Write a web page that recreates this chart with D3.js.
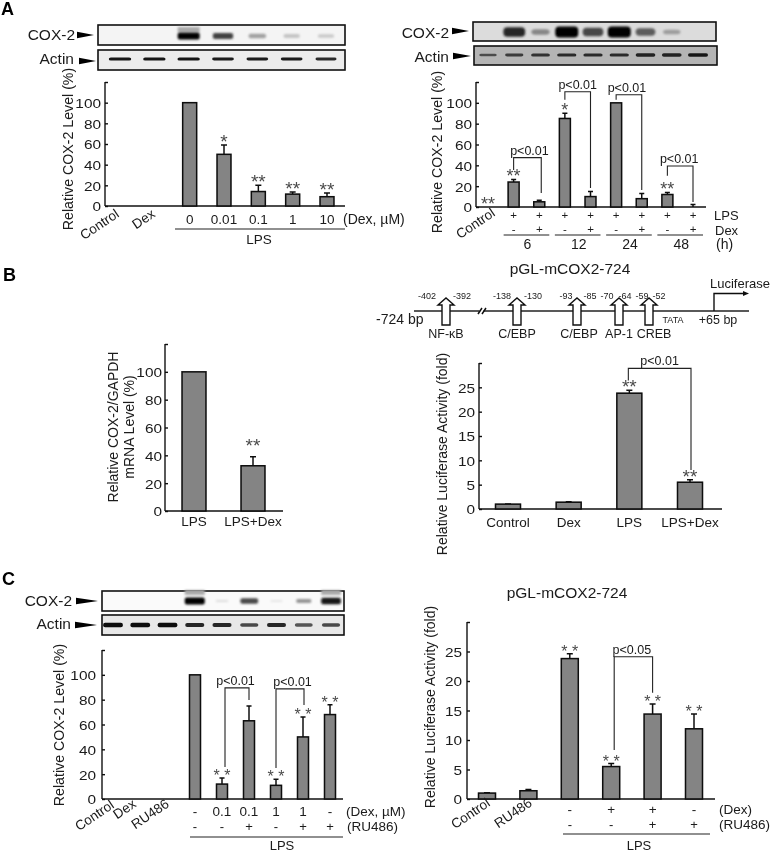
<!DOCTYPE html>
<html><head><meta charset="utf-8">
<script src="https://cdn.jsdelivr.net/npm/d3@7"></script>
<style>html,body{margin:0;padding:0;background:#fff}svg{display:block}text{font-family:"Liberation Sans",Arial,sans-serif;fill:#1a1a1a}</style>
</head><body><div id="c"></div>
<script>
// ---------- data ----------
const a1Cats=["Control","Dex","0","0.01","0.1","1","10"];
const a1Vals=[0,0,100,50,14,11.5,9];
const a1Errs=[0,0,100,59,20,13.5,12.5];
const a1Stars=["","","","*","**","**","**"];
const a1Cox=[0,0,1,.75,.35,.2,.18];
const a1Actin=[.95,.95,.95,.9,.9,.9,.85];

const a2Cats=["Control","6-","6+","12-","12+","24-","24+","48-","48+"];
const a2Vals=[0,24,5,85,10,100,8,12,0];
const a2Errs=[0,26.5,6.5,90,15,100,13,14,2.5];
const a2Stars=["**","**","","*","","","","**",""];
const a2Row1=["","+","+","+","+","+","+","+","+"];
const a2Row2=["","-","+","-","+","-","+","-","+"];
const a2Groups=["6","12","24","48"];
const a2Cox=[0,.85,.4,1,.7,1,.6,.3,0];
const a2Actin=[.6,.7,.75,.8,.8,.8,.85,.85,.9];

const b1Cats=["LPS","LPS+Dex"];
const b1Vals=[100,32.5];
const b1Errs=[100,39];
const b1Stars=["","**"];

const b2Cats=["Control","Dex","LPS","LPS+Dex"];
const b2Vals=[1,1.4,23.8,5.5];
const b2Errs=[1.05,1.5,24.4,6];
const b2Stars=["","","**","**"];
const siteNames=["NF-κB","C/EBP","C/EBP","AP-1","CREB"];
const sitePos=[-397,-134,-89,-67,-55];
const siteLabels=["-402","-392","-138","-130","-93","-85","-70","-64","-59","-52"];

const c1Cats=["Control","Dex","RU486","-|-","0.1|-","0.1|+","1|-","1|+","-|+"];
const c1Vals=[0,0,0,100,12,63,11,50,68];
const c1Errs=[0,0,0,100,17,75,16,66,76];
const c1Stars=["","","","","* *","","* *","* *","* *"];
const c1Row1=["","","","-","0.1","0.1","1","1","-"];
const c1Row2=["","","","-","-","+","-","+","+"];
const c1Cox=[0,0,0,1,.12,.72,.08,.42,.95];
const c1Actin=[.95,.95,.95,.85,.85,.7,.85,.65,.7];

const c2Cats=["Control","RU486","-|-","+|-","+|+","-|+"];
const c2Vals=[1,1.4,23.8,5.5,14.4,11.9];
const c2Errs=[1.05,1.6,24.6,6,16.1,14.4];
const c2Stars=["","","* *","* *","* *","* *"];
const c2Row1=["","","-","+","+","-"];
const c2Row2=["","","-","-","+","+"];

const yTicks100=[0,20,40,60,80,100,120];
const yTicks25=[0,5,10,15,20,25,30];

// ---------- helpers ----------
const svg=d3.select("#c").append("svg").attr("width",774).attr("height",853);
const defs=svg.append("defs");
defs.append("filter").attr("id","soft").attr("x","-5%").attr("y","-5%").attr("width","110%").attr("height","110%")
  .append("feGaussianBlur").attr("stdDeviation",0.35);
defs.append("filter").attr("id","band").attr("x","-30%").attr("y","-100%").attr("width","160%").attr("height","300%")
  .append("feGaussianBlur").attr("stdDeviation",1.3);
defs.append("filter").attr("id","fine").attr("x","-30%").attr("y","-150%").attr("width","160%").attr("height","400%")
  .append("feGaussianBlur").attr("stdDeviation",0.75);
const root=svg.append("g").attr("filter","url(#soft)");

function txt(x,y,s,o={}){
  return root.append("text").attr("x",x).attr("y",y).text(s)
    .attr("font-size",o.size||13.5).attr("text-anchor",o.anchor||"middle")
    .attr("font-weight",o.weight||null).style("fill",o.fill||null)
    .attr("transform",o.rot!=null?`rotate(${o.rot} ${x} ${y})`:null);
}
function hline(x1,x2,y,w=1.2){root.append("line").attr("x1",x1).attr("x2",x2).attr("y1",y).attr("y2",y).attr("stroke","#222").attr("stroke-width",w);}
function hlineG(g,x1,x2,y){g.append("line").attr("x1",x1).attr("x2",x2).attr("y1",y).attr("y2",y).attr("stroke","#111").attr("stroke-width",1.6);}

function chart(p){
  const x=d3.scalePoint().domain(p.cats).range(p.xr);
  const y=d3.scaleLinear().domain([0,p.ymax]).range([p.y0,p.yt]);
  const g=root.append("g");
  const ax=d3.axisLeft(y).tickValues(p.ticks).tickSize(-3).tickFormat(d=>d===p.ymax?"":d);
  const ag=g.append("g").attr("transform",`translate(${p.ax},0)`).call(ax);
  ag.selectAll("text").attr("font-size",13.5).attr("x",-(p.tgap||4)).attr("dy","0.36em")
    .each(function(){const n=this.getComputedTextLength(); if(n>0) d3.select(this).attr("textLength",n*1.14).attr("lengthAdjust","spacingAndGlyphs");});
  ag.selectAll("line,path").attr("stroke","#111").attr("stroke-width",1.4);
  ag.select(".domain").attr("d",`M0,${p.yt}V${p.y0}`);
  hlineG(g,p.ax,p.xe,p.y0);
  const idx=p.cats.map((c,i)=>i);
  g.selectAll(".e").data(idx.filter(i=>p.errs[i]>p.vals[i])).join("path")
    .attr("d",i=>{const c=x(p.cats[i]),t=y(p.errs[i]),cap=p.cap||3;return `M${c},${y(p.vals[i])}V${t}M${c-cap},${t}H${c+cap}`;})
    .attr("stroke","#111").attr("stroke-width",1.5).attr("fill","none");
  g.selectAll(".b").data(idx.filter(i=>p.vals[i]>0)).join("rect")
    .attr("x",i=>x(p.cats[i])-p.bw/2).attr("width",p.bw)
    .attr("y",i=>y(p.vals[i])).attr("height",i=>y(0)-y(p.vals[i]))
    .attr("fill","#848484").attr("stroke","#0a0a0a").attr("stroke-width",1.5);
  g.selectAll(".s").data(idx.filter(i=>p.stars[i])).join("text")
    .attr("x",i=>x(p.cats[i])+(p.sdx||0)).attr("y",i=>y(p.errs[i])+(p.sdy==null?3:p.sdy))
    .attr("text-anchor","middle").attr("font-size",p.ssize||19).text(i=>p.stars[i]).style("fill","#4a4a4a");
  (p.br||[]).forEach(b=>{
    g.append("path").attr("d",`M${x(p.cats[b[0]])+(b[6]||0)},${y(b[2])}V${y(b[3])}H${x(p.cats[b[1]])+(b[7]||0)}V${y(b[4])}`)
      .attr("fill","none").attr("stroke","#222").attr("stroke-width",1.1);
    g.append("text").attr("x",(x(p.cats[b[0]])+x(p.cats[b[1]]))/2+(b[8]||0)).attr("y",y(b[3])-3)
      .attr("text-anchor","middle").attr("font-size",12.5).text(b[5]);
  });
  return {x,y};
}

function blot(p){
  const g=root.append("g");
  const x=d3.scalePoint().domain(d3.range(p.vals.length)).range(p.xr);
  g.append("rect").attr("x",p.x0).attr("y",p.y0).attr("width",p.x1-p.x0).attr("height",p.y1-p.y0)
    .attr("fill",p.bg).attr("stroke","#111").attr("stroke-width",1.6);
  const wS=d3.scaleLinear().domain([0,1]).range(p.w), hS=d3.scaleLinear().domain([0,1]).range(p.h);
  const col=d3.scaleLinear().domain([0,1]).range([p.bg,"#060606"]);
  const ids=d3.range(p.vals.length).filter(i=>p.vals[i]>0);
  if(p.halo) g.selectAll(".h").data(ids.filter(i=>p.vals[i]>.9)).join("rect")
     .attr("x",i=>x(i)-wS(p.vals[i])/2).attr("width",i=>wS(p.vals[i]))
     .attr("y",p.by-p.halo).attr("height",5).attr("fill","#aaa").attr("filter","url(#band)");
  g.selectAll(".n").data(ids).join("rect")
     .attr("x",i=>x(i)-wS(p.vals[i])/2).attr("width",i=>wS(p.vals[i]))
     .attr("y",i=>p.by-hS(p.vals[i])/2).attr("height",i=>hS(p.vals[i]))
     .attr("rx",p.rx||2).attr("fill",i=>col(p.vals[i])).attr("filter",`url(#${p.blur||"band"})`);
  txt(p.lx,p.ly,p.label,{anchor:"end",size:15.5});
  const [a,b,c]=p.arrow;
  g.append("path").attr("d",`M${a},${c-3.2}L${b},${c}L${a},${c+3.2}Z`).attr("fill","#000");
}

// ---------- panel letters ----------
txt(1,15,"A",{anchor:"start",size:18,weight:"bold",fill:"#000"});
txt(3,281,"B",{anchor:"start",size:18,weight:"bold",fill:"#000"});
txt(2,585,"C",{anchor:"start",size:18,weight:"bold",fill:"#000"});

// ---------- A left ----------
blot({vals:a1Cox,xr:[120,326],x0:98,x1:345,y0:25,y1:45,by:36,bg:"#f4f4f4",w:[15,22],h:[3,7],halo:9,lx:75,ly:40,label:"COX-2",arrow:[77,94,35]});
blot({vals:a1Actin,xr:[120,326],x0:98,x1:345,y0:50,y1:70,by:59,bg:"#ececec",w:[10,23],h:[1,3.2],blur:"fine",lx:74,ly:64,label:"Actin",arrow:[79,96,61]});
const a1=chart({cats:a1Cats,vals:a1Vals,errs:a1Errs,stars:a1Stars,xr:[121,327],ymax:120,ticks:yTicks100,y0:206,yt:82,ax:105,xe:345,bw:14});
txt(73,149,"Relative COX-2 Level (%)",{rot:-90,size:14.2});
txt(120,216,"Control",{rot:-34,anchor:"end",size:13.5});
txt(156,216,"Dex",{rot:-34,anchor:"end",size:13.5});
a1Cats.slice(2).forEach(c=>txt(a1.x(c),224,c,{size:13.5}));
txt(343,224,"(Dex, µM)",{anchor:"start",size:14});
hline(175,345,229);
txt(259,244,"LPS",{size:13.5});

// ---------- A right ----------
blot({vals:a2Cox,xr:[488,698],x0:473,x1:716,y0:22,y1:41,by:32,bg:"#dcdcdc",w:[15,23],h:[2,11],rx:4,lx:449,ly:38,label:"COX-2",arrow:[452,469,31]});
blot({vals:a2Actin,xr:[488,698],x0:474,x1:717,y0:46,y1:65,by:55,bg:"#b4b4b4",w:[12,21],h:[1,3.8],blur:"fine",lx:449,ly:62,label:"Actin",arrow:[453,471,56]});
const a2=chart({cats:a2Cats,vals:a2Vals,errs:a2Errs,stars:a2Stars,xr:[488,693],ymax:120,ticks:yTicks100,y0:207,yt:82,ax:476,xe:706,bw:11,tgap:4,cap:2.5,ssize:18,
 br:[[1,2,35.6,47.4,13.5,"p<0.01",0,2,3],[3,4,103,110.6,18.3,"p<0.01",0,0,0],[5,6,103,107.7,16.3,"p<0.01",0,0,-2],[7,8,30,39.4,4.8,"p<0.01",0,0,-1]]});
txt(442,152,"Relative COX-2 Level (%)",{rot:-90,size:14.2});
txt(496,215,"Control",{rot:-34,anchor:"end",size:13.5});
a2Cats.forEach((c,i)=>{ if(a2Row1[i]){ txt(a2.x(c),219,a2Row1[i],{size:11.5}); txt(a2.x(c),232.5,a2Row2[i],{size:11.5}); }});
txt(714,219.5,"LPS",{anchor:"start",size:13});
txt(715,234.5,"Dex",{anchor:"start",size:13});
a2Groups.forEach((g,i)=>{
  const l=a2.x(a2Cats[1+2*i]),r=a2.x(a2Cats[2+2*i]);
  hline(l-10,r+10,235);
  txt((l+r)/2+1,249,g,{size:14});
});
txt(716,249,"(h)",{anchor:"start",size:14});

// ---------- B left ----------
const b1=chart({cats:b1Cats,vals:b1Vals,errs:b1Errs,stars:b1Stars,xr:[194,253],ymax:120,ticks:yTicks100,y0:511,yt:344,ax:165,xe:283,bw:24,sdy:-5,tgap:3});
txt(118,427,"Relative COX-2/GAPDH",{rot:-90,size:14});
txt(134,427,"mRNA Level (%)",{rot:-90,size:14});
b1Cats.forEach(c=>txt(b1.x(c),526,c,{size:13.5}));

// ---------- B right ----------
txt(570,274,"pGL-mCOX2-724",{size:15.5});
const px=d3.scaleLinear().domain(sitePos).range([446,517,577,619,649]);
hline(414,749,311,1.5);
root.append("rect").attr("x",479.5).attr("y",309).attr("width",4).attr("height",4).attr("fill","#fff");
root.append("path").attr("d","M478,314L482,308M482,314L486,308").attr("stroke","#111").attr("stroke-width",1.5);
root.selectAll(".site").data(sitePos).join("path")
  .attr("d",d=>{const c=px(d);return `M${c-4},325V305H${c-8}L${c},298L${c+8},305H${c+4}V325Z`;})
  .attr("fill","#fff").attr("stroke","#111").attr("stroke-width",1.4);
const labelX=[427,462,502,533,566,590,607,625,642,659];
siteLabels.forEach((s,i)=>txt(labelX[i],299,s,{size:9}));
const nameX=[446,517,579,619,654];
siteNames.forEach((s,i)=>txt(nameX[i],338,s,{size:12.5}));
txt(376,324,"-724 bp",{anchor:"start",size:14});
txt(673,323,"TATA",{size:9});
txt(718,324,"+65 bp",{size:12.5});
txt(710,288,"Luciferase",{anchor:"start",size:13});
root.append("path").attr("d","M714,311V293.5H744").attr("fill","none").attr("stroke","#111").attr("stroke-width",1.4);
root.append("path").attr("d","M743,291L749,293.5L743,296Z").attr("fill","#111");
const b2=chart({cats:b2Cats,vals:b2Vals,errs:b2Errs,stars:b2Stars,xr:[508,690],ymax:30,ticks:yTicks25,y0:509,yt:363,ax:479,xe:722,bw:25,tgap:4,
 br:[[2,3,26.4,28.9,8,"p<0.01",-1,1,0]]});
txt(447,454,"Relative Luciferase Activity (fold)",{rot:-90,size:14});
b2Cats.forEach(c=>txt(b2.x(c),527,c,{size:13.5}));

// ---------- C left ----------
blot({vals:c1Cox,xr:[113,331],x0:102,x1:344,y0:591,y1:611,by:601,bg:"#fafafa",w:[12,20],h:[1.5,7],halo:11,lx:72,ly:606,label:"COX-2",arrow:[76,98,601]});
blot({vals:c1Actin,xr:[113,331],x0:102,x1:344,y0:615,y1:635,by:625,bg:"#e8e8e8",w:[14,20],h:[1.5,4.5],blur:"fine",lx:71,ly:629,label:"Actin",arrow:[75,97,625]});
const c1=chart({cats:c1Cats,vals:c1Vals,errs:c1Errs,stars:c1Stars,xr:[114,330],ymax:120,ticks:yTicks100,y0:799,yt:650,ax:102,xe:343,bw:11,tgap:6,cap:2.5,ssize:16,sdy:3,
 br:[[4,5,25.8,89.5,79.8,"p<0.01",3,0,0],[6,7,25,88.7,75.8,"p<0.01",0,1,3]]});
txt(64,725,"Relative COX-2 Level (%)",{rot:-90,size:14.2});
txt(115,807,"Control",{rot:-34,anchor:"end",size:13.5});
txt(137,806,"Dex",{rot:-34,anchor:"end",size:13.5});
txt(170,806,"RU486",{rot:-34,anchor:"end",size:13.5});
c1Cats.forEach((c,i)=>{ if(c1Row1[i]){ txt(c1.x(c),816,c1Row1[i],{size:13.5}); txt(c1.x(c),831,c1Row2[i],{size:13}); }});
txt(346,816,"(Dex, µM)",{anchor:"start",size:13.5});
txt(347,831,"(RU486)",{anchor:"start",size:13.5});
hline(190,343,837);
txt(282,850,"LPS",{size:13});

// ---------- C right ----------
txt(567,598,"pGL-mCOX2-724",{size:15.5});
const c2=chart({cats:c2Cats,vals:c2Vals,errs:c2Errs,stars:c2Stars,xr:[487,694],ymax:30,ticks:yTicks25,y0:799,yt:622,ax:467,xe:715,bw:17,tgap:5,cap:3,ssize:16,sdy:3,
 br:[[3,4,8.3,24.1,18,"p<0.05",3,0,0]]});
txt(435,707,"Relative Luciferase Activity (fold)",{rot:-90,size:14});
txt(491,805,"Control",{rot:-34,anchor:"end",size:13.5});
txt(533,805,"RU486",{rot:-34,anchor:"end",size:13.5});
c2Cats.forEach((c,i)=>{ if(c2Row1[i]){ txt(c2.x(c),814,c2Row1[i],{size:13.5}); txt(c2.x(c),829,c2Row2[i],{size:13}); }});
txt(719,814,"(Dex)",{anchor:"start",size:13.5});
txt(719,829,"(RU486)",{anchor:"start",size:13.5});
hline(563,710,834);
txt(639,850,"LPS",{size:13});
</script></body></html>
